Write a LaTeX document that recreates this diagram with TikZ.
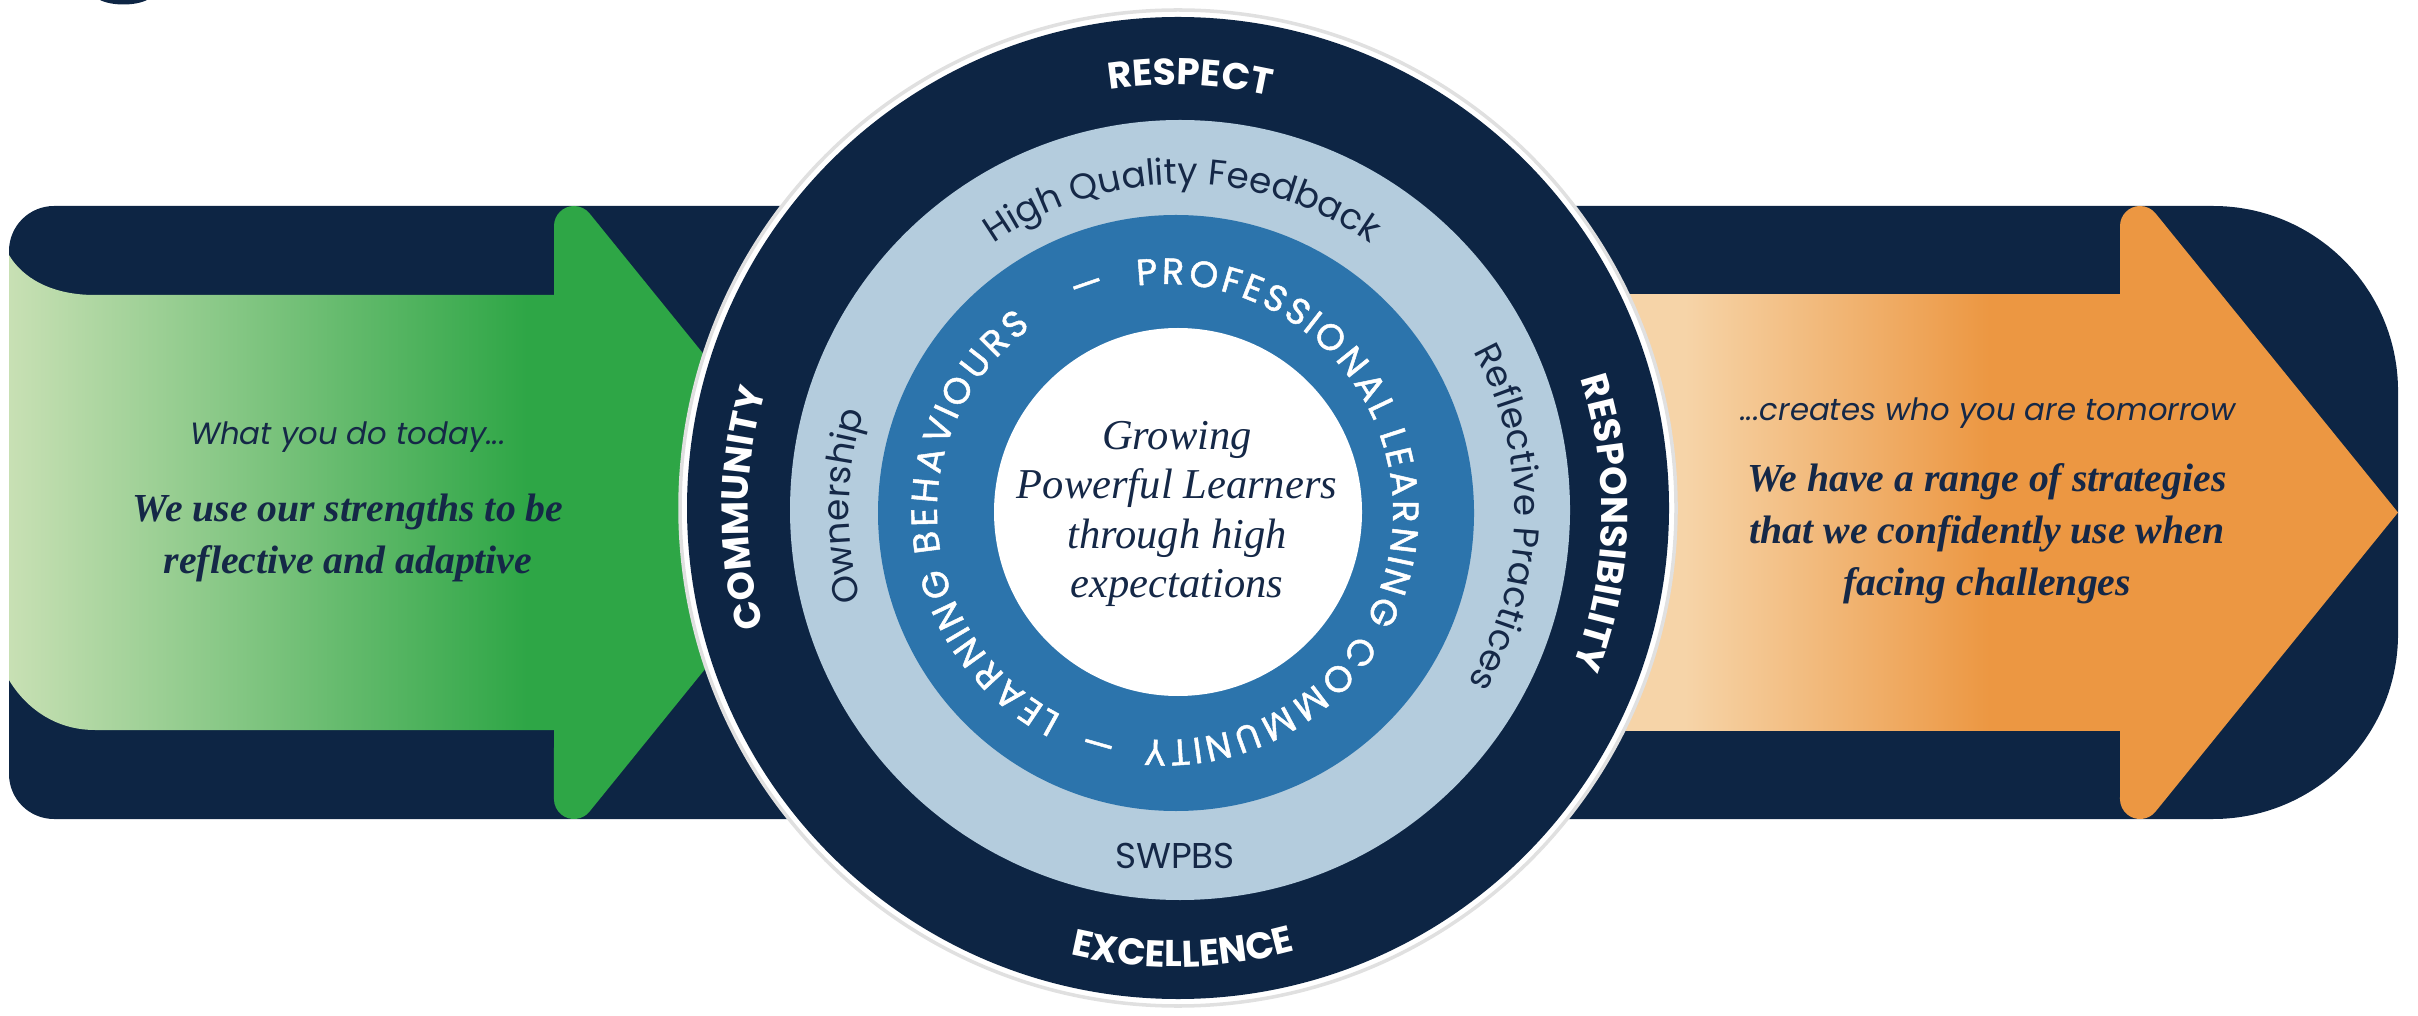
\documentclass[tikz,border=0pt]{standalone}
\usepackage{fontspec}
\setmainfont{Liberation Serif}
\setsansfont{Poppins}
\newfontfamily\plcfamily[FakeBold=1.3]{Poppins}
\usetikzlibrary{decorations.text}

\definecolor{navy}{RGB}{13,37,68}
\definecolor{inknavy}{RGB}{21,40,71}
\definecolor{paleblue}{RGB}{180,204,221}
\definecolor{midblue}{RGB}{44,116,172}
\definecolor{leafgreen}{RGB}{46,166,70}
\definecolor{palegreen}{RGB}{200,224,180}
\definecolor{peach}{RGB}{246,212,168}
\definecolor{amber}{RGB}{236,151,66}

\pgfdeclarehorizontalshading{greenfade}{100bp}{color(0bp)=(palegreen); color(25bp)=(palegreen); color(72bp)=(leafgreen); color(100bp)=(leafgreen)}
\pgfdeclarehorizontalshading{amberfade}{100bp}{color(0bp)=(peach); color(36bp)=(peach); color(63bp)=(amber); color(100bp)=(amber)}

\newcommand\valuefont{\sffamily\bfseries\fontsize{10.6}{12}\selectfont}
\newcommand\practicefont{\sffamily\fontsize{10.2}{12}\selectfont}
\newcommand\plcfont{\plcfamily\fontsize{10.4}{12}\selectfont}
\newcommand\leadfont{\sffamily\itshape\fontsize{8.75}{10}\selectfont}
\newcommand\goalfont{\rmfamily\bfseries\itshape\fontsize{11.3}{14.8}\selectfont}
\newcommand\corefont{\rmfamily\itshape\fontsize{12.1}{14}\selectfont}

\begin{document}
\begin{tikzpicture}[x=0.1mm,y=0.1mm,
  ringtext/.style={decorate,decoration={text along path,text align=center,text={#1}}}]
\useasboundingbox (0,0) rectangle (2418,1015);
\coordinate (oc) at (1175,503);
\coordinate (lc) at (1182,503);
\coordinate (pc) at (1165,503);

\fill[navy] (100,1015) .. controls (112,1009) and (135,1009) .. (147,1015) -- cycle;

\fill[navy] (54,809) -- (2213,809) arc[start angle=90,end angle=0,radius=185] -- (2398,381)
  arc[start angle=0,end angle=-90,radius=185] -- (54,196) arc[start angle=270,end angle=180,radius=45]
  -- (9,764) arc[start angle=180,end angle=90,radius=45] -- cycle;

\shade[shading=greenfade] (560,720) -- (95,720) .. controls (50,720) and (22,738) .. (9,760)
  -- (9,335) .. controls (22,313) and (50,285) .. (95,285) -- (560,285) -- cycle;
\shade[shading=amberfade] (1560,720) rectangle (2126,285);
\foreach \xb/\fillc in {554/leafgreen,2120/amber}
  \fill[\fillc] (\xb,720) -- (\xb,789) arc[start angle=180,end angle=39,radius=20]
    -- (\xb+278,502.5) -- (\xb+35.5,203.4) arc[start angle=-39,end angle=-180,radius=20]
    -- (\xb,285) -- cycle;

\fill[white,draw=black!12,line width=1pt] (1178,507) circle[radius=498];
\fill[navy] (1178,507) circle[radius=491];
\fill[paleblue] (1180,505) circle[radius=390];
\fill[midblue] (1176,502) circle[radius=298];
\fill[white] (1178,503) circle[radius=184];

\path[ringtext={|\valuefont\color{white}|RESPECT}] ([shift={(118:427)}]oc) arc[start angle=118,end angle=58,radius=427];
\path[ringtext={|\valuefont\color{white}|RESPONSIBILITY}] ([shift={(35:427)}]oc) arc[start angle=35,end angle=-38,radius=427];
\path[ringtext={|\valuefont\color{white}|COMMUNITY}] ([shift={(210:427)}]oc) arc[start angle=210,end angle=149,radius=427];
\path[ringtext={|\valuefont\color{white}|EXCELLENCE}] ([shift={(236:455)}]oc) arc[start angle=236,end angle=306,radius=455];

\path[ringtext={|\practicefont\color{inknavy}|High Quality Feedback}] ([shift={(130:328)}]lc) arc[start angle=130,end angle=50,radius=328];
\path[ringtext={|\practicefont\color{inknavy}|Ownership}] ([shift={(205:333)}]lc) arc[start angle=205,end angle=153,radius=333];
\path[ringtext={|\practicefont\color{inknavy}|Reflective Practices}] ([shift={(45:333)}]lc) arc[start angle=45,end angle=-47,radius=333];
\node[font=\practicefont,text=inknavy] (swpbs) at (1175,159) {SWPBS};

\foreach \words/\from/\to in {{LEARNING BEHAVIOURS}/243/126,{PROFESSIONAL LEARNING COMMUNITY}/97/-95}
  \path[decorate,decoration={text effects along path,text/.expanded=\words,
      text effects/.cd,text along path,fit text to path,
      characters={text=white,font=\plcfont}}]
    ([shift={(\from:228)}]pc) arc[start angle=\from,end angle=\to,radius=228];
\foreach \at in {109,-106}
  \path[ringtext={|\plcfont\color{white}|—}] ([shift={(\at+12:228)}]pc) arc[start angle=\at+12,end angle=\at-12,radius=228];

\node[font=\corefont,text=inknavy,align=center] (core) at (1177,501) {Growing\\Powerful Learners\\through high\\expectations};

\node[font=\leadfont,text=inknavy,anchor=base] (today) at (348,570) {What you do today...};
\node[font=\goalfont,text=inknavy,align=center] (strengths) at (348,477) {We use our strengths to be\\reflective and adaptive};
\node[font=\leadfont,text=inknavy,anchor=base] (tomorrow) at (1988,594) {...creates who you are tomorrow};
\node[font=\goalfont,text=inknavy,align=center] (strategies) at (1987,481) {We have a range of strategies\\that we confidently use when\\facing challenges};
\end{tikzpicture}
\end{document}
